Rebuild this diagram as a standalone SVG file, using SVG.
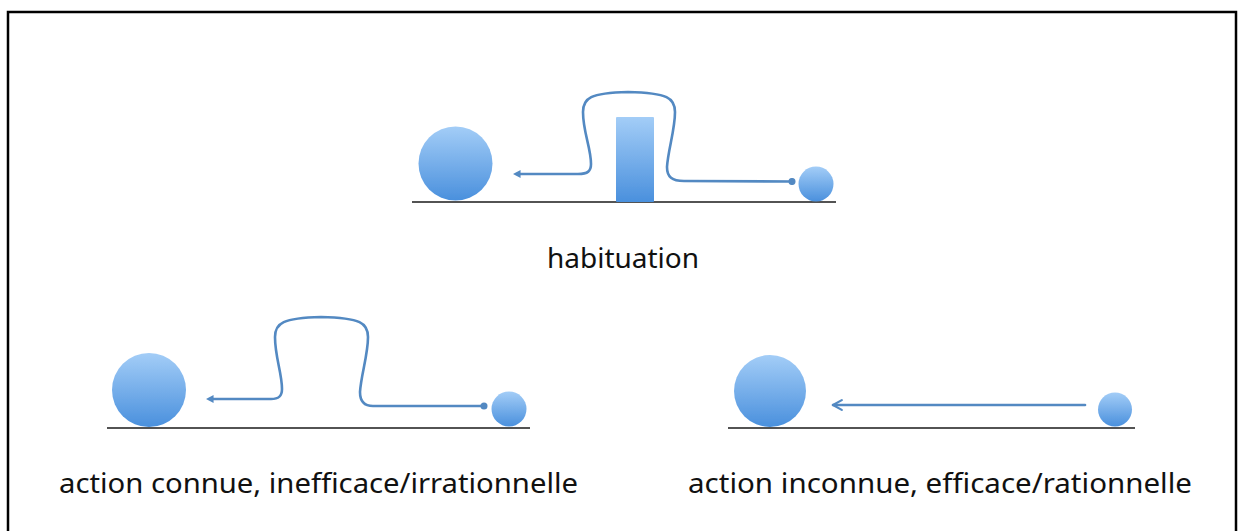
<svg xmlns="http://www.w3.org/2000/svg" width="1243" height="531" viewBox="0 0 1243 531">
  <style>
    .frame { fill: #ffffff; stroke: #000000; stroke-width: 2.5; }
    .ground { stroke: #1a1a1a; stroke-width: 1.6; }
    .ball { fill: url(#blueFill); filter: url(#soft); }
    .wire { fill: none; stroke: #5389c2; stroke-width: 2.6; stroke-linecap: round; stroke-linejoin: round; filter: url(#soft); }
    .label { font-family: "Noto Sans", "DejaVu Sans", sans-serif; font-size: 28px; fill: #111111; text-anchor: middle; }
  </style>
  <defs>
    <linearGradient id="blueFill" x1="0" y1="0" x2="0" y2="1">
      <stop offset="0" stop-color="#a3cdf7"/>
      <stop offset="1" stop-color="#4a90dd"/>
    </linearGradient>
    <filter id="soft" filterUnits="userSpaceOnUse" x="0" y="0" width="1243" height="531">
      <feGaussianBlur stdDeviation="0.6"/>
    </filter>
    <marker id="head" viewBox="0 0 10 10" refX="2" refY="5" markerWidth="3" markerHeight="3" orient="auto-start-reverse" markerUnits="strokeWidth">
      <path d="M0,0 L10,5 L0,10 Z" fill="#5389c2"/>
    </marker>
    <marker id="chevron" viewBox="0 0 12 12" refX="10" refY="6" markerWidth="4.5" markerHeight="4.5" orient="auto" markerUnits="strokeWidth">
      <path d="M1,1 L10,6 L1,11" fill="none" stroke="#5389c2" stroke-width="2.2" stroke-linecap="round" stroke-linejoin="round"/>
    </marker>
    <marker id="dot" viewBox="0 0 10 10" refX="5" refY="5" markerWidth="3" markerHeight="3" markerUnits="strokeWidth">
      <circle cx="5" cy="5" r="4.5" fill="#5389c2"/>
    </marker>
  </defs>

  <rect class="frame" x="8" y="12" width="1228" height="521"/>

  <!-- habituation scene -->
  <g id="habituation">
    <line class="ground" x1="412" y1="202" x2="836" y2="202"/>
    <circle class="ball" cx="455.5" cy="163.5" r="37"/>
    <rect id="obstacle" class="ball" x="616" y="117" width="38" height="85" rx="1"/>
    <circle class="ball" cx="816" cy="184" r="17.5"/>
    <text class="label" x="623" y="268">habituation</text>
  </g>

  <!-- known action, inefficient -->
  <g id="action-connue">
    <line class="ground" x1="107" y1="428" x2="530" y2="428"/>
    <circle class="ball" cx="149" cy="390" r="37"/>
    <circle class="ball" cx="509" cy="409" r="17.5"/>
    <text class="label" x="318.5" y="493" textLength="519" lengthAdjust="spacingAndGlyphs">action connue, inefficace/irrationnelle</text>
  </g>

  <!-- unknown action, efficient -->
  <g id="action-inconnue">
    <line class="ground" x1="728" y1="428" x2="1135" y2="428"/>
    <circle class="ball" cx="770" cy="391" r="36"/>
    <circle class="ball" cx="1115" cy="409.5" r="17"/>
    <text class="label" x="940" y="493" textLength="504" lengthAdjust="spacingAndGlyphs">action inconnue, efficace/rationnelle</text>
  </g>

  <!-- connectors -->
  <g id="connectors">
    <path class="wire" marker-start="url(#dot)" marker-end="url(#head)"
          d="M 792 181.5 L 684 181 C 672 181 667 177 667 167 C 668 150 675 130 675 112 C 675 98 668 93 628 92 C 590 93 583 98 583 112 C 583 132 591 148 591 164 C 591 171 588 174 578 174 L 519 174"/>
    <path class="wire" marker-start="url(#dot)" marker-end="url(#head)"
          d="M 484 406 L 373 406 C 364 406 360 401 360 392 C 361 375 368 355 368 337 C 368 323 361 318 321 317 C 283 318 275 323 275 337 C 275 357 282 373 282 389 C 282 396 279 399 271 399 L 212 399"/>
    <path class="wire" marker-end="url(#chevron)" d="M 1085 405 L 833 405"/>
  </g>
</svg>
